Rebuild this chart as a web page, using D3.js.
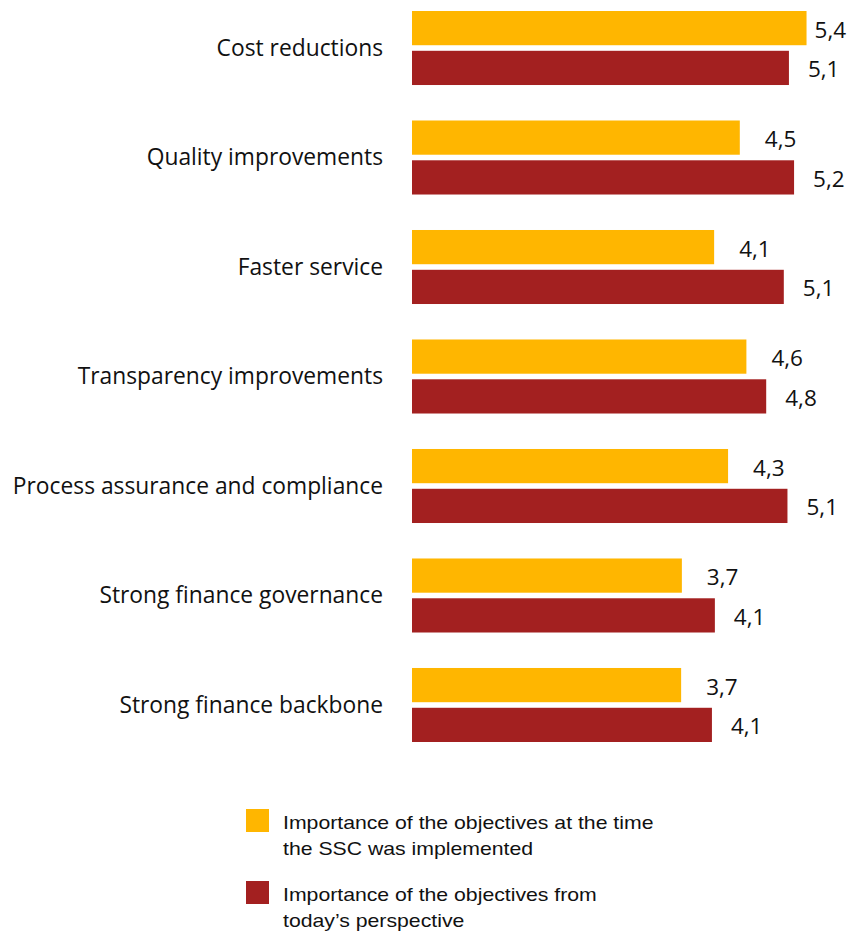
<!DOCTYPE html>
<head>
<meta charset="utf-8">
<script src="https://d3js.org/d3.v7.min.js"></script>
<style>
  body { margin: 0; background: white; }
  svg { font-family: 'Open Sans', sans-serif; }
  .cat text { font-size: 22.8px; fill: #111; }
  .val { font-size: 22.5px; fill: #111; }
  .legend text { font-family: 'Liberation Sans', Arial, sans-serif; font-size: 18px; fill: #111; }
</style>
</head>
<body>
<script>
// DATA
const categories = ['Cost reductions', 'Quality improvements', 'Faster service',
  'Transparency improvements', 'Process assurance and compliance',
  'Strong finance governance', 'Strong finance backbone'];
const thenValues = [5.38, 4.47, 4.12, 4.56, 4.31, 3.68, 3.67];
const nowValues  = [5.14, 5.21, 5.07, 4.83, 5.12, 4.13, 4.09];
const seriesNames = ['Importance of the objectives at the time|the SSC was implemented',
  'Importance of the objectives from|today\u2019s perspective'];
const colors = ['#FFB600', '#A32020'];

const width = 859, height = 931;
const svg = d3.select('body').append('svg')
  .attr('width', width).attr('height', height);

// SCALES
const x = d3.scaleLinear([0, 6], [412, 852]);
const y = d3.scaleBand(categories, [11, 11 + 7 * 109.5 - 35.5]).paddingInner(0.324);
const ySub = d3.scaleBand([0, 1], [0, y.bandwidth()]).paddingInner(0.14);

const rows = categories.map((c, i) => ({cat: c, vals: [thenValues[i], nowValues[i]]}));
const fmt = v => d3.format('.1f')(v).replace('.', ',');

// BARS
const g = svg.selectAll('.grp').data(rows).join('g')
  .attr('class', 'grp')
  .attr('transform', d => `translate(0,${y(d.cat)})`);

g.selectAll('rect').data(d => d.vals.map((v, k) => ({v, k}))).join('rect')
  .attr('x', x(0))
  .attr('y', d => ySub(d.k))
  .attr('width', d => x(d.v) - x(0))
  .attr('height', ySub.bandwidth())
  .attr('fill', d => colors[d.k]);

// value labels (first one sits closer to its bar, as in the original)
g.selectAll('.val').data((d, i) => d.vals.map((v, k) => ({v, k, i}))).join('text')
  .attr('class', 'val')
  .attr('x', d => x(d.v) + (d.k === 0 ? (d.i === 0 ? 8 : 25) : 19))
  .attr('y', d => ySub(d.k) + ySub.bandwidth() / 2 + 9.5)
  .text(d => fmt(d.v));

// CATEGORY AXIS
const yAxisG = svg.append('g')
  .attr('class', 'cat')
  .attr('transform', `translate(${x(0)},0)`)
  .call(d3.axisLeft(y).tickSize(0).tickPadding(29));
yAxisG.select('.domain').remove();
yAxisG.selectAll('text').attr('dy', '0.34em');
yAxisG.attr('font-family', null).attr('font-size', null);

// LEGEND  (text in the original is a bit wider than plain Arial)
const legend = svg.append('g').attr('class', 'legend');
seriesNames.forEach((name, k) => {
  const top = 809 + k * 72;
  legend.append('rect')
    .attr('x', 246).attr('y', top).attr('width', 23).attr('height', 23)
    .attr('fill', colors[k]);
  name.split('|').forEach((line, j) => {
    legend.append('text')
      .attr('transform', `translate(283,${top + 20 + j * 26}) scale(1.18,1)`)
      .text(line);
  });
});
</script>
</body>
